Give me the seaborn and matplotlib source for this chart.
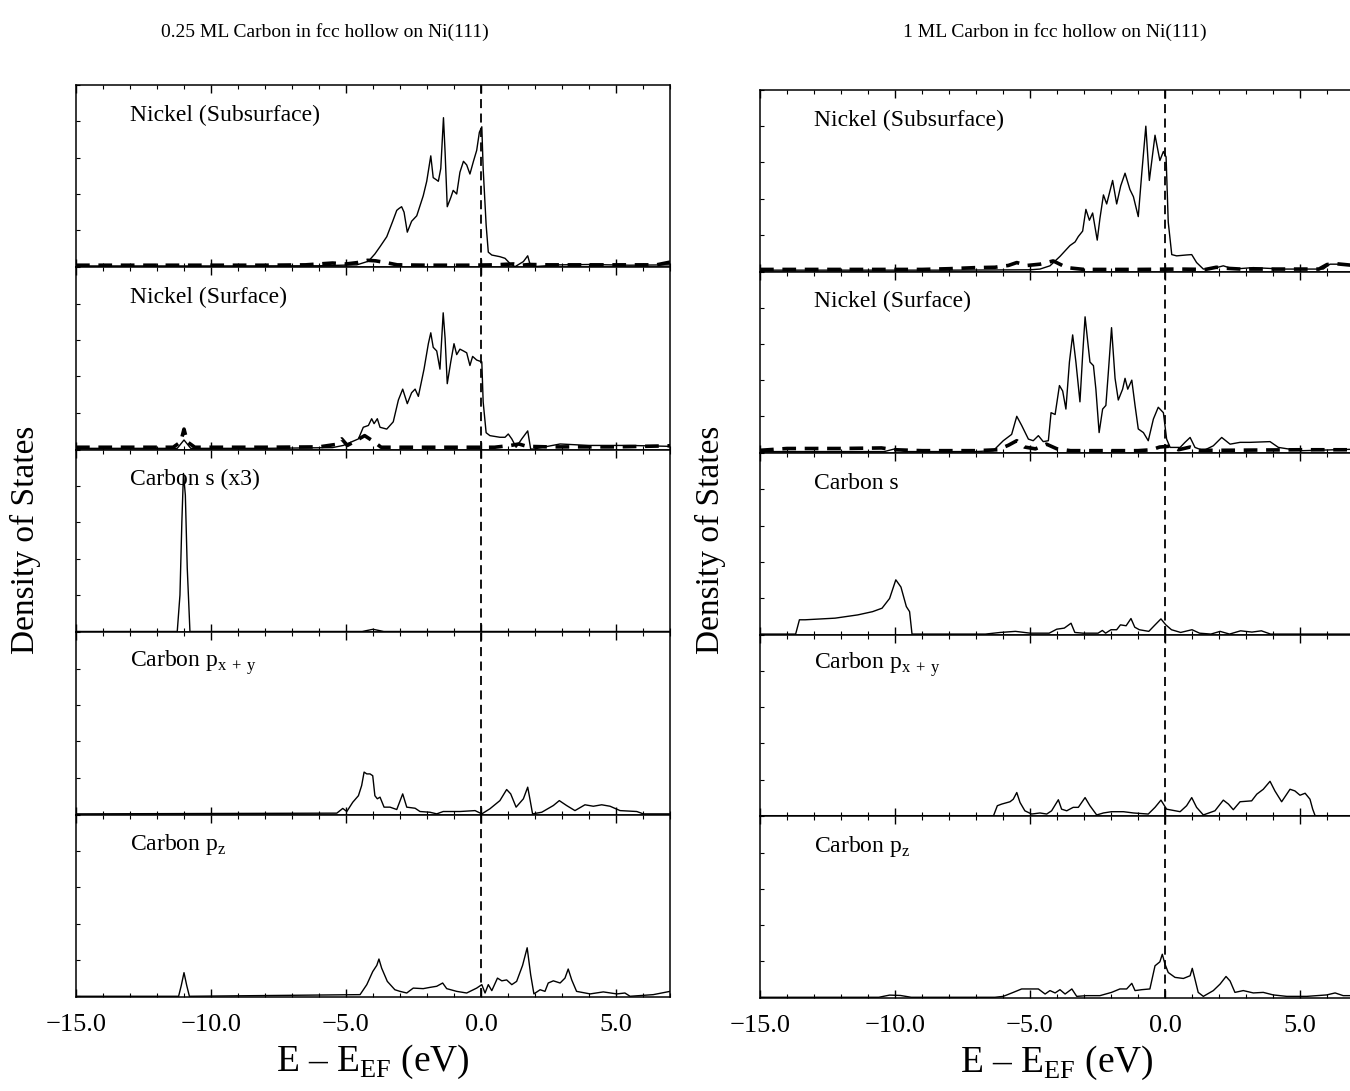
import numpy as np
import matplotlib
matplotlib.use("Agg")
import matplotlib.pyplot as plt
import seaborn as sns
from matplotlib.ticker import MultipleLocator, FuncFormatter

# ---- data: (E - E_F [eV], DOS [arb. units]) ----
# 0.25 ML column
left_ni_sub_solid = [(-15.0, 0.004), (-10.0, 0.004), (-6.0, 0.005), (-4.6, 0.01), (-4.17, 0.03), (-3.93, 0.07),
                     (-3.74, 0.11), (-3.49, 0.165), (-3.27, 0.25), (-3.12, 0.31), (-3.04, 0.32), (-2.94, 0.33),
                     (-2.85, 0.30), (-2.73, 0.19), (-2.57, 0.25), (-2.38, 0.28), (-2.14, 0.39), (-2.01, 0.47),
                     (-1.86, 0.61), (-1.77, 0.49), (-1.67, 0.48), (-1.58, 0.47), (-1.49, 0.54), (-1.39, 0.82),
                     (-1.33, 0.63), (-1.25, 0.33), (-1.12, 0.38), (-1.03, 0.42), (-0.90, 0.40), (-0.78, 0.52),
                     (-0.65, 0.58), (-0.53, 0.56), (-0.41, 0.51), (-0.28, 0.58), (-0.16, 0.64), (-0.06, 0.74),
                     (0.03, 0.77), (0.08, 0.54), (0.19, 0.23), (0.27, 0.08), (0.40, 0.064), (0.70, 0.055),
                     (0.89, 0.046), (1.07, 0.018), (1.26, 0.0), (1.57, 0.028), (1.73, 0.06), (1.84, 0.0),
                     (1.94, 0.0), (2.9, 0.01), (4.0, 0.012), (5.5, 0.008), (7.0, 0.01)]
left_ni_sub_dash = [(-15.0, 0.008), (-8.0, 0.008), (-6.5, 0.01), (-6.0, 0.015), (-5.5, 0.02), (-5.0, 0.015),
                    (-4.6, 0.022), (-4.2, 0.035), (-3.9, 0.032), (-3.5, 0.022), (-3.1, 0.01), (-2.0, 0.008),
                    (-0.5, 0.008), (0.5, 0.01), (1.2, 0.015), (1.5, 0.008), (1.8, 0.012), (2.5, 0.01),
                    (4.0, 0.01), (6.5, 0.01), (7.0, 0.025)]
left_ni_surf_solid = [(-15.0, 0.004), (-11.25, 0.004), (-11.0, 0.05), (-10.75, 0.004), (-8.0, 0.004), (-5.5, 0.008),
                      (-5.1, 0.02), (-4.54, 0.056), (-4.36, 0.12), (-4.17, 0.13), (-4.05, 0.167), (-3.96, 0.14),
                      (-3.84, 0.167), (-3.74, 0.12), (-3.49, 0.11), (-3.25, 0.15), (-3.06, 0.27), (-2.90, 0.33),
                      (-2.73, 0.25), (-2.57, 0.31), (-2.44, 0.33), (-2.32, 0.29), (-2.11, 0.44), (-1.95, 0.58),
                      (-1.86, 0.64), (-1.77, 0.56), (-1.64, 0.54), (-1.52, 0.44), (-1.40, 0.75), (-1.33, 0.61),
                      (-1.25, 0.36), (-1.12, 0.48), (-1.00, 0.58), (-0.90, 0.52), (-0.78, 0.55), (-0.65, 0.54),
                      (-0.53, 0.53), (-0.41, 0.46), (-0.31, 0.51), (-0.16, 0.49), (0.03, 0.48), (0.08, 0.26),
                      (0.19, 0.09), (0.33, 0.074), (0.70, 0.065), (0.89, 0.065), (1.01, 0.083), (1.14, 0.056),
                      (1.30, 0.01), (1.51, 0.056), (1.73, 0.10), (1.84, 0.0), (1.94, 0.0), (2.93, 0.028),
                      (4.0, 0.02), (5.5, 0.02), (7.0, 0.015)]
left_ni_surf_dash = [(-15.0, 0.01), (-11.4, 0.01), (-11.12, 0.04), (-11.0, 0.11), (-10.88, 0.04), (-10.6, 0.01),
                     (-8.0, 0.01), (-6.0, 0.012), (-5.4, 0.025), (-5.16, 0.056), (-4.95, 0.02), (-4.7, 0.04),
                     (-4.31, 0.074), (-3.96, 0.04), (-3.7, 0.01), (-3.0, 0.01), (-1.0, 0.01), (0.5, 0.01),
                     (1.1, 0.02), (1.4, 0.028), (1.7, 0.015), (2.5, 0.012), (5.0, 0.012), (7.0, 0.018)]
left_c_s = [(-15.0, 0.0), (-11.25, 0.0), (-11.15, 0.2), (-11.08, 0.6), (-11.02, 0.87), (-10.95, 0.75),
            (-10.88, 0.35), (-10.78, 0.0), (-4.4, 0.0), (-4.0, 0.012), (-3.6, 0.0), (7.0, 0.0)]
left_c_pxy = [(-15.0, 0.0), (-5.34, 0.004), (-5.12, 0.03), (-4.97, 0.013), (-4.75, 0.064), (-4.54, 0.10),
              (-4.42, 0.156), (-4.33, 0.23), (-4.23, 0.22), (-4.11, 0.22), (-4.01, 0.21), (-3.93, 0.10),
              (-3.84, 0.083), (-3.74, 0.092), (-3.59, 0.037), (-3.37, 0.037), (-3.12, 0.024), (-2.90, 0.11),
              (-2.75, 0.037), (-2.44, 0.031), (-2.26, 0.013), (-1.89, 0.009), (-1.64, 0.0), (-1.40, 0.013),
              (-0.78, 0.013), (-0.22, 0.018), (0.03, 0.0), (0.33, 0.028), (0.70, 0.073), (0.95, 0.134),
              (1.10, 0.11), (1.30, 0.037), (1.57, 0.083), (1.73, 0.147), (1.81, 0.083), (1.91, 0.0),
              (2.25, 0.009), (2.68, 0.046), (2.90, 0.073), (3.17, 0.046), (3.48, 0.018), (3.85, 0.05),
              (4.16, 0.042), (4.47, 0.05), (4.78, 0.042), (5.15, 0.018), (5.77, 0.013), (6.01, 0.0), (7.0, 0.0)]
left_c_pz = [(-15.0, 0.0), (-11.2, 0.0), (-11.1, 0.06), (-11.0, 0.13), (-10.9, 0.06), (-10.8, 0.0),
             (-4.48, 0.009), (-4.23, 0.064), (-4.01, 0.136), (-3.86, 0.17), (-3.78, 0.205), (-3.68, 0.155),
             (-3.47, 0.082), (-3.19, 0.036), (-3.00, 0.027), (-2.75, 0.018), (-2.51, 0.045), (-2.14, 0.042),
             (-1.89, 0.049), (-1.64, 0.055), (-1.42, 0.073), (-1.27, 0.042), (-0.90, 0.027), (-0.53, 0.018),
             (-0.16, 0.045), (0.03, 0.064), (0.15, 0.018), (0.27, 0.064), (0.40, 0.031), (0.61, 0.10),
             (0.77, 0.085), (0.95, 0.09), (1.14, 0.064), (1.32, 0.082), (1.54, 0.17), (1.71, 0.267),
             (1.84, 0.118), (1.96, 0.013), (2.19, 0.036), (2.37, 0.027), (2.49, 0.073), (2.68, 0.085),
             (2.93, 0.073), (3.11, 0.10), (3.23, 0.15), (3.36, 0.09), (3.54, 0.027), (4.04, 0.013),
             (4.53, 0.024), (5.03, 0.013), (5.33, 0.018), (5.52, 0.0), (6.38, 0.009), (7.0, 0.027)]

# 1 ML column
right_ni_sub_solid = [(-15.0, 0.004), (-8.0, 0.004), (-5.0, 0.006), (-4.63, 0.01), (-4.26, 0.028), (-3.89, 0.08),
                      (-3.52, 0.14), (-3.33, 0.16), (-3.21, 0.19), (-3.05, 0.22), (-2.93, 0.34), (-2.80, 0.28),
                      (-2.68, 0.32), (-2.51, 0.17), (-2.41, 0.29), (-2.28, 0.42), (-2.16, 0.37), (-1.94, 0.50),
                      (-1.79, 0.37), (-1.64, 0.47), (-1.48, 0.54), (-1.30, 0.45), (-1.17, 0.41), (-0.99, 0.30),
                      (-0.86, 0.54), (-0.71, 0.80), (-0.58, 0.50), (-0.37, 0.75), (-0.19, 0.61), (-0.06, 0.66),
                      (0.04, 0.63), (0.12, 0.27), (0.25, 0.09), (0.43, 0.083), (0.80, 0.088), (0.99, 0.09),
                      (1.17, 0.046), (1.42, 0.01), (1.91, 0.018), (2.16, 0.028), (2.53, 0.01), (3.27, 0.018),
                      (4.38, 0.01), (5.86, 0.01), (6.11, 0.037), (6.48, 0.037), (7.0, 0.03)]
right_ni_sub_dash = [(-15.0, 0.008), (-9.0, 0.008), (-8.0, 0.012), (-7.0, 0.018), (-6.3, 0.02), (-5.8, 0.03),
                     (-5.49, 0.046), (-5.1, 0.03), (-4.63, 0.037), (-4.14, 0.055), (-3.64, 0.018), (-3.0, 0.008),
                     (-1.0, 0.008), (0.5, 0.01), (1.5, 0.008), (1.9, 0.02), (2.2, 0.015), (2.8, 0.01),
                     (4.5, 0.01), (5.7, 0.01), (6.0, 0.035), (6.3, 0.04), (7.0, 0.03)]
right_ni_surf_solid = [(-15.0, 0.005), (-10.4, 0.005), (-10.0, 0.02), (-9.6, 0.005), (-7.0, 0.005), (-6.36, 0.01),
                       (-5.99, 0.065), (-5.68, 0.10), (-5.49, 0.20), (-5.31, 0.15), (-5.06, 0.074), (-4.88, 0.065),
                       (-4.69, 0.093), (-4.51, 0.06), (-4.32, 0.065), (-4.22, 0.22), (-4.07, 0.21), (-3.91, 0.37),
                       (-3.79, 0.34), (-3.67, 0.24), (-3.54, 0.50), (-3.42, 0.65), (-3.30, 0.50), (-3.15, 0.28),
                       (-3.05, 0.54), (-2.96, 0.75), (-2.86, 0.61), (-2.78, 0.50), (-2.65, 0.48), (-2.56, 0.35),
                       (-2.44, 0.11), (-2.31, 0.24), (-2.19, 0.26), (-2.10, 0.44), (-1.98, 0.69), (-1.85, 0.41),
                       (-1.73, 0.29), (-1.57, 0.35), (-1.48, 0.41), (-1.38, 0.35), (-1.23, 0.40), (-1.11, 0.26),
                       (-0.99, 0.13), (-0.80, 0.11), (-0.62, 0.065), (-0.43, 0.185), (-0.25, 0.25), (-0.06, 0.22),
                       (0.06, 0.074), (0.19, 0.028), (0.56, 0.028), (0.74, 0.056), (0.93, 0.083), (1.11, 0.028),
                       (1.42, 0.01), (1.79, 0.037), (2.10, 0.083), (2.41, 0.046), (2.78, 0.056), (3.15, 0.056),
                       (3.89, 0.06), (4.20, 0.028), (4.63, 0.018), (5.11, 0.01), (7.0, 0.018)]
right_ni_surf_dash = [(-15.0, 0.012), (-14.0, 0.022), (-12.0, 0.022), (-10.5, 0.025), (-10.0, 0.015), (-9.0, 0.01),
                      (-7.0, 0.01), (-6.2, 0.015), (-5.8, 0.04), (-5.49, 0.065), (-5.2, 0.03), (-4.8, 0.02),
                      (-4.39, 0.046), (-4.0, 0.02), (-3.5, 0.01), (-1.0, 0.01), (-0.5, 0.015), (-0.2, 0.03),
                      (0.2, 0.035), (0.5, 0.015), (0.93, 0.03), (1.3, 0.012), (2.0, 0.012), (5.0, 0.015), (7.0, 0.015)]
right_c_s = [(-15.0, 0.0), (-13.68, 0.0), (-13.54, 0.079), (-13.33, 0.079), (-12.22, 0.088), (-11.38, 0.106),
             (-10.83, 0.124), (-10.48, 0.143), (-10.20, 0.197), (-9.97, 0.30), (-9.78, 0.26), (-9.58, 0.152),
             (-9.46, 0.124), (-9.37, 0.0), (-6.65, 0.0), (-6.10, 0.009), (-5.54, 0.015), (-4.99, 0.005),
             (-4.29, 0.005), (-4.01, 0.027), (-3.73, 0.033), (-3.48, 0.06), (-3.34, 0.009), (-3.04, 0.005),
             (-2.48, 0.005), (-2.32, 0.02), (-2.20, 0.005), (-2.00, 0.024), (-1.79, 0.024), (-1.65, 0.051),
             (-1.44, 0.046), (-1.26, 0.086), (-1.12, 0.038), (-0.95, 0.024), (-0.60, 0.015), (-0.40, 0.046),
             (-0.15, 0.084), (0.03, 0.051), (0.24, 0.024), (0.58, 0.009), (1.00, 0.024), (1.28, 0.005),
             (1.70, 0.0), (2.04, 0.015), (2.39, 0.0), (2.80, 0.018), (3.22, 0.011), (3.57, 0.018),
             (3.91, 0.0), (7.0, 0.0)]
right_c_pxy = [(-15.0, 0.0), (-6.35, 0.0), (-6.21, 0.055), (-6.05, 0.064), (-5.74, 0.077), (-5.62, 0.091),
               (-5.49, 0.128), (-5.37, 0.073), (-5.19, 0.027), (-4.94, 0.009), (-4.63, 0.015), (-4.38, 0.009),
               (-4.20, 0.027), (-3.95, 0.088), (-3.83, 0.036), (-3.64, 0.027), (-3.40, 0.046), (-3.21, 0.046),
               (-2.96, 0.10), (-2.78, 0.055), (-2.53, 0.004), (-2.28, 0.015), (-1.98, 0.022), (-1.54, 0.022),
               (-1.17, 0.015), (-0.62, 0.009), (-0.37, 0.046), (-0.15, 0.086), (0.06, 0.036), (0.56, 0.022),
               (0.80, 0.055), (0.99, 0.10), (1.17, 0.046), (1.42, 0.004), (1.85, 0.027), (2.16, 0.086),
               (2.35, 0.064), (2.53, 0.033), (2.78, 0.077), (3.21, 0.082), (3.40, 0.119), (3.64, 0.146),
               (3.89, 0.19), (4.07, 0.137), (4.32, 0.077), (4.63, 0.146), (4.81, 0.137), (5.00, 0.113),
               (5.19, 0.124), (5.37, 0.091), (5.47, 0.036), (5.56, 0.0), (7.0, 0.0)]
right_c_pz = [(-15.0, 0.0), (-10.6, 0.0), (-10.2, 0.012), (-9.8, 0.01), (-9.4, 0.0), (-6.3, 0.0), (-5.99, 0.005),
              (-5.62, 0.027), (-5.31, 0.046), (-5.00, 0.046), (-4.69, 0.046), (-4.44, 0.018), (-4.26, 0.037),
              (-4.07, 0.024), (-3.89, 0.042), (-3.70, 0.018), (-3.45, 0.046), (-3.27, 0.005), (-2.90, 0.009),
              (-2.41, 0.009), (-1.98, 0.027), (-1.67, 0.046), (-1.42, 0.046), (-1.23, 0.077), (-1.11, 0.037),
              (-0.86, 0.042), (-0.56, 0.046), (-0.37, 0.174), (-0.19, 0.196), (-0.10, 0.238), (0.00, 0.183),
              (0.12, 0.137), (0.37, 0.11), (0.68, 0.104), (0.93, 0.119), (1.01, 0.16), (1.11, 0.10),
              (1.23, 0.027), (1.42, 0.005), (1.79, 0.037), (2.04, 0.073), (2.26, 0.115), (2.41, 0.09),
              (2.59, 0.027), (2.90, 0.037), (3.27, 0.024), (3.64, 0.027), (4.01, 0.013), (4.51, 0.005),
              (5.25, 0.005), (5.99, 0.013), (6.30, 0.024), (6.60, 0.009), (7.0, 0.009)]

left_labels = ["Nickel (Subsurface)", "Nickel (Surface)", "Carbon s (x3)",
               r"Carbon p$_{\mathregular{x\,+\,y}}$", r"Carbon p$_{\mathregular{z}}$"]
right_labels = ["Nickel (Subsurface)", "Nickel (Surface)", "Carbon s",
                r"Carbon p$_{\mathregular{x\,+\,y}}$", r"Carbon p$_{\mathregular{z}}$"]
x_ticks = [-15, -10, -5, 0, 5]

sns.set_style("ticks")
plt.rcParams["font.family"] = ["Liberation Serif", "DejaVu Serif"]
plt.rcParams["mathtext.fontset"] = "custom"
plt.rcParams["mathtext.rm"] = "Liberation Serif"
plt.rcParams["axes.linewidth"] = 1.1
for key in ["text.color", "axes.labelcolor", "axes.edgecolor", "xtick.color", "ytick.color"]:
    plt.rcParams[key] = "black"

W, H = 1350, 1091
fig = plt.figure(figsize=(W / 100, H / 100), dpi=100)


def minus_fmt(v, pos):
    return f"{v:.1f}".replace("-", "\u2212")


def draw_column(x0_px, top_px, bot_px, labels, solids, dashes):
    n = len(labels)
    ph = (bot_px - top_px) / n
    for i in range(n):
        ax = fig.add_axes([x0_px / W, 1 - (top_px + (i + 1) * ph) / H, 594 / W, ph / H])
        e, d = np.array(solids[i]).T
        sns.lineplot(x=e, y=d, ax=ax, color="black", linewidth=1.0, estimator=None, sort=False)
        if dashes[i] is not None:
            e2, d2 = np.array(dashes[i]).T
            sns.lineplot(x=e2, y=d2, ax=ax, color="black", linewidth=2.6,
                         linestyle=(0, (3.8, 2.4)), estimator=None, sort=False)
        ax.axvline(0, color="black", linewidth=1.3, linestyle=(0, (5, 3)))
        ax.set_xlim(-15, 7)
        ax.set_ylim(-0.004, 1.0)
        ax.set_xticks(x_ticks)
        ax.xaxis.set_minor_locator(MultipleLocator(1))
        ax.set_yticks([])
        ax.yaxis.set_minor_locator(MultipleLocator(0.2))
        ax.tick_params(axis="x", which="major", direction="in", top=True, bottom=True, length=6, width=1)
        ax.tick_params(axis="x", which="minor", direction="in", top=True, bottom=True, length=3, width=0.8)
        ax.tick_params(axis="y", which="minor", direction="in", left=True, length=3, width=0.8)
        ax.set_ylabel("")
        ax.text(0.091, 0.835, labels[i], transform=ax.transAxes, fontsize=17, ha="left", va="center")
        if i < n - 1:
            ax.tick_params(axis="x", labelbottom=False)
            ax.set_xlabel("")
        else:
            ax.xaxis.set_major_formatter(FuncFormatter(minus_fmt))
            ax.tick_params(axis="x", labelsize=19, pad=12)
            ax.set_xlabel("E \u2013 E$_{\\mathregular{EF}}$ (eV)", fontsize=27, labelpad=5)


draw_column(76, 85, 997, left_labels,
            [left_ni_sub_solid, left_ni_surf_solid, left_c_s, left_c_pxy, left_c_pz],
            [left_ni_sub_dash, left_ni_surf_dash, None, None, None])
draw_column(760, 90, 998, right_labels,
            [right_ni_sub_solid, right_ni_surf_solid, right_c_s, right_c_pxy, right_c_pz],
            [right_ni_sub_dash, right_ni_surf_dash, None, None, None])

fig.text(325 / W, 1 - 32 / H, "0.25 ML Carbon in fcc hollow on Ni(111)", fontsize=14, ha="center", va="center")
fig.text(1055 / W, 1 - 32 / H, "1 ML Carbon in fcc hollow on Ni(111)", fontsize=14, ha="center", va="center")
fig.text(25 / W, 1 - 540 / H, "Density of States", fontsize=24, rotation=90, ha="center", va="center")
fig.text(710 / W, 1 - 540 / H, "Density of States", fontsize=24, rotation=90, ha="center", va="center")

fig.savefig("out.png", dpi=100)
